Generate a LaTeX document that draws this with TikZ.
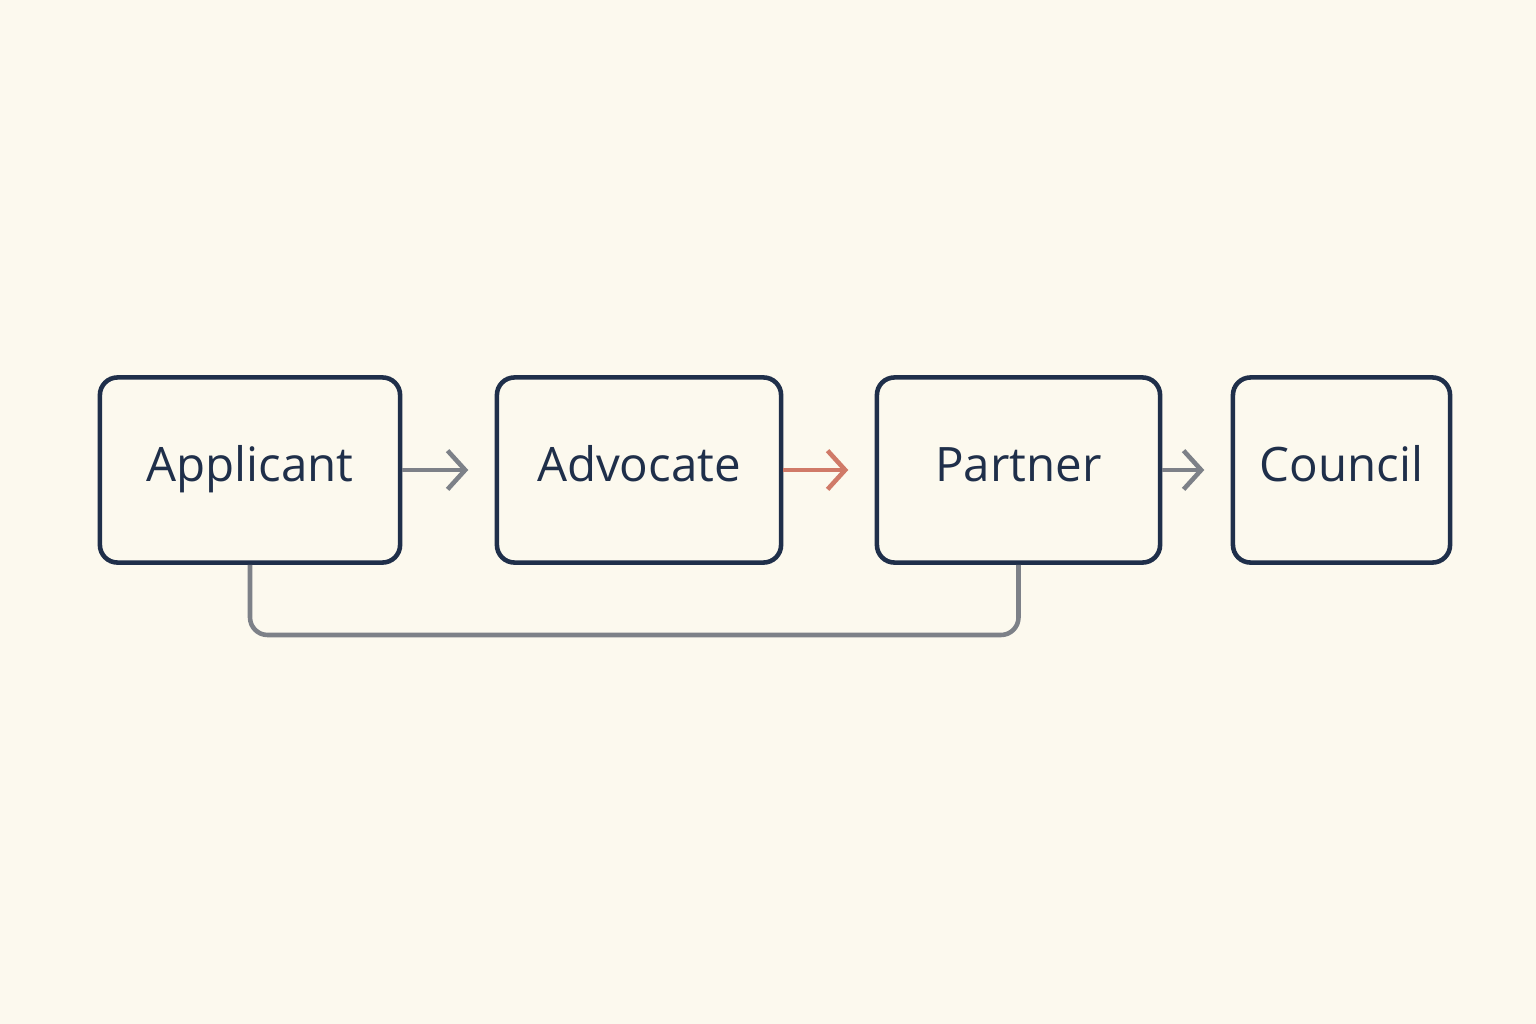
\documentclass[tikz,border=0pt]{standalone}
\usepackage{fontspec}
\setmainfont{Open Sans}
\usetikzlibrary{arrows.meta}
\definecolor{paper}{HTML}{FCF9EE}
\definecolor{navy}{HTML}{1F2F4A}
\definecolor{linkgray}{HTML}{7D8188}
\definecolor{linkred}{HTML}{D07A68}
\begin{document}
\begin{tikzpicture}
    [
    x=0.01cm, y=-0.01cm,
    every node/.style={font=\fontsize{13.5}{16}\selectfont, text=navy},
    role/.style={rectangle, rounded corners=5pt, draw=navy, line width=1.3pt, minimum height=1.85cm, inner sep=0pt, text height=1.6ex, text depth=0.4ex},
    arrow/.style={-{Straight Barb[length=5pt,width=11pt]}, line width=1.3pt, draw=linkgray, shorten >=15pt*0.5},
    link/.style={line width=1.3pt, draw=linkgray, rounded corners=5pt}
    ]

% Background
    \fill[paper] (0,0) rectangle (1536,1024);

% Roles
    \node[role, minimum width=3.0cm] (applicant) at (250,470) {Applicant};
    \node[role, minimum width=2.84cm] (advocate) at (639,470) {Advocate};
    \node[role, minimum width=2.83cm] (partner) at (1018.5,470) {Partner};
    \node[role, minimum width=2.17cm] (council) at (1341.5,470) {Council};

% Arrows
    \draw[arrow] (applicant) -- (advocate);
    \draw[arrow, draw=linkred] (advocate) -- (partner);
    \draw[arrow] (partner) -- (council);

% Return link
    \draw[link] (applicant.south) |- (635,635) -| (partner.south);

\end{tikzpicture}
\end{document}
